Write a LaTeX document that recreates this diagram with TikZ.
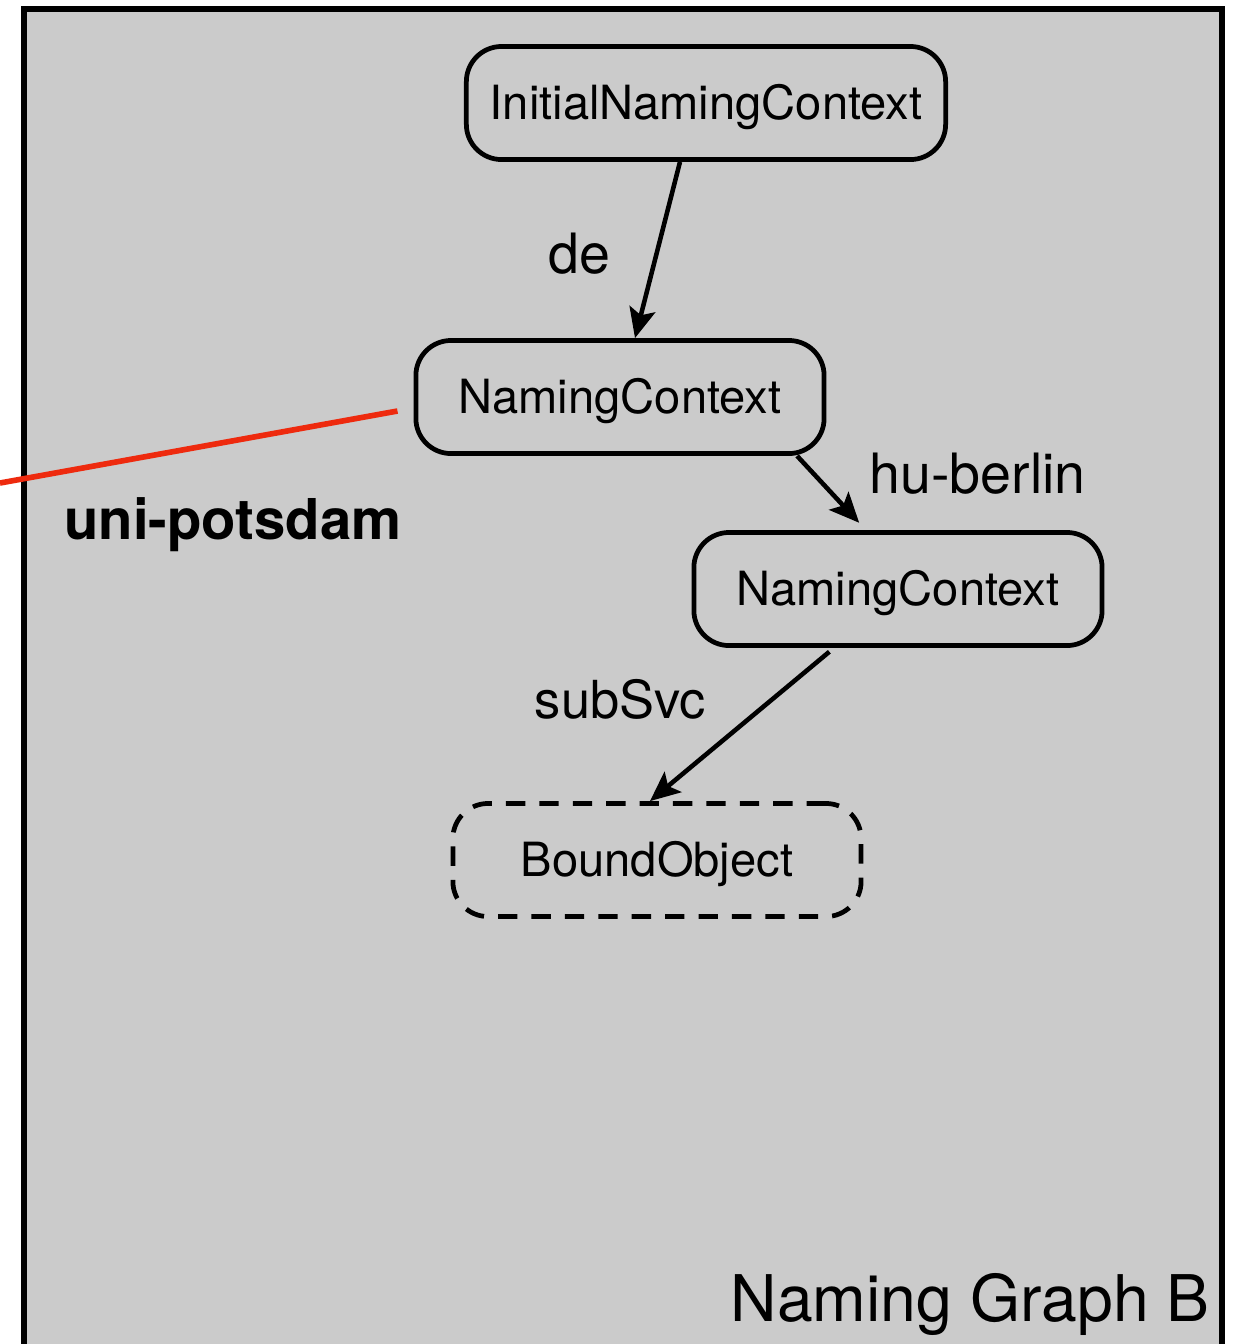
\documentclass[tikz,border=0pt]{standalone}
\usepackage{fontspec}
\setmainfont{TeX Gyre Heros}
\usetikzlibrary{arrows.meta,positioning}
\definecolor{graphgray}{RGB}{203,203,203}
\definecolor{linkred}{RGB}{238,42,14}
\newcommand{\boxfont}{\fontsize{13.4pt}{16pt}\selectfont}
\newcommand{\labfont}{\fontsize{15.8pt}{18pt}\selectfont}

\begin{document}
\begin{tikzpicture}[x=0.01cm,y=-0.01cm,
    ctxbox/.style={draw,line width=1.35pt,rounded corners=10pt,text depth=0.5pt,
        minimum width=4.08cm,minimum height=1.13cm,font=\boxfont},
    arr/.style={-{Stealth[length=8.5pt,width=7.5pt,inset=1.8pt]},line width=1.3pt},
    lab/.style={font=\labfont}]
    \useasboundingbox (0,0) rectangle (1242,1344);
    \clip (0,0) rectangle (1242,1344);
    \fill[graphgray] (24,9) rectangle (1222,1400);
    \draw[line width=1.7pt] (24,1400) -- (24,9) -- (1222,9) -- (1222,1400);

    \node[ctxbox,minimum width=4.79cm] (init) at (706,103) {InitialNamingContext};
    \node[ctxbox] (nc1) at (620,397) {NamingContext};
    \node[ctxbox] (nc2) at (898,589) {NamingContext};
    \node[ctxbox,dash pattern=on 5.5pt off 4pt] (obj) at (657,860) {BoundObject};
    \node[anchor=east,font=\fontsize{18.3pt}{22pt}\selectfont] (title) at (1222,1304) {Naming Graph B};
    \coordinate (edge) at (0,483);

    \draw[arr] ([xshift=-0.26cm]init.south) -- ([xshift=0.15cm]nc1.north) node[midway,lab,left=0.33cm,yshift=-0.04cm] {de};
    \draw[arr,shorten >=0.1cm] ([xshift=1.77cm]nc1.south) -- ([xshift=-0.32cm]nc2.north) node[midway,lab,right=0.24cm,yshift=0.19cm] {hu-berlin};
    \draw[arr,shorten <=0.06cm] ([xshift=-0.64cm]nc2.south) -- ([xshift=-0.07cm]obj.north) node[midway,lab,font=\fontsize{14.9pt}{18pt}\selectfont,above left=-0.09cm and 0.22cm] {subSvc};
    \draw[linkred,line width=1.6pt] ([xshift=-0.16cm,yshift=-0.14cm]nc1.west) -- (edge) node[midway,below=0.36cm,xshift=0.34cm,black,font=\fontsize{16pt}{19pt}\selectfont\bfseries] {uni-potsdam};
\end{tikzpicture}
\end{document}
